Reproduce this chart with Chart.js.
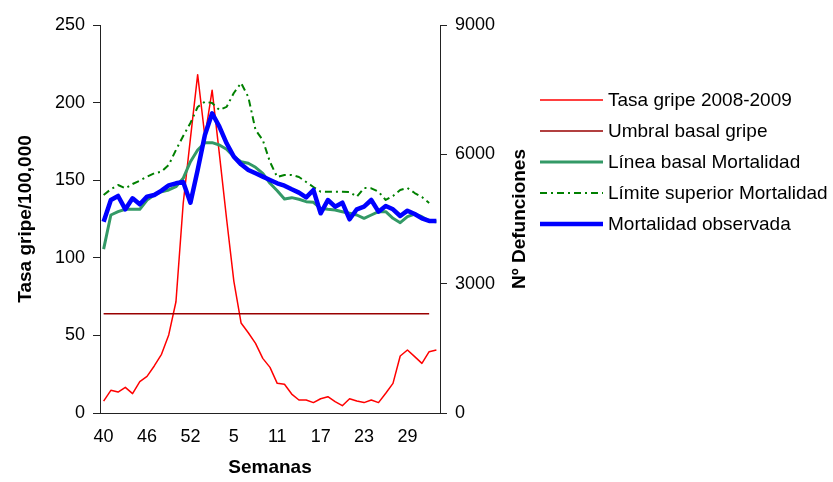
<!DOCTYPE html>
<html>
<head>
<meta charset="utf-8">
<script src="https://cdn.jsdelivr.net/npm/chart.js@4.4.1/dist/chart.umd.min.js"></script>
<style>
html,body{margin:0;padding:0;background:#fff;}
#wrap{width:833px;height:482px;position:relative;}
</style>
</head>
<body>
<div id="wrap"><canvas id="c" width="833" height="482"></canvas></div>
<script>
const weeks = [40,41,42,43,44,45,46,47,48,49,50,51,52,53,1,2,3,4,5,6,7,8,9,10,11,12,13,14,15,16,17,18,19,20,21,22,23,24,25,26,27,28,29,30,31,32,33];
const tickWeeks = [40,46,52,5,11,17,23,29];

const tasaGripe = [7.7,14.6,13.5,16.5,12.5,20.2,23.6,30.3,37.8,50.3,71.7,135,177,218,178,208,167,125,85,58,51.7,44.9,35.2,29.4,19.1,18.5,12.2,8.4,8.4,6.7,9.2,10.5,7.3,4.7,9.2,7.7,6.7,8.4,6.7,12.7,19.1,36.7,40.6,36.3,32,39.5,40.6];
const umbralGripe = [64,64,64,64,64,64,64,64,64,64,64,64,64,64,64,64,64,64,64,64,64,64,64,64,64,64,64,64,64,64,64,64,64,64,64,64,64,64,64,64,64,64,64,64,64,64,null];
const basalMortalidad = [3800,4593,4670,4725,4725,4725,4941,5057,5134,5173,5250,5444,5829,6101,6270,6270,6217,6117,5946,5829,5792,5699,5560,5328,5157,4964,4995,4957,4902,4887,4748,4725,4709,4670,4632,4593,4516,4593,4670,4670,4516,4415,4554,4616,4554,4454,4437];
const limiteMortalidad = [5057,5189,5289,5212,5312,5389,5482,5560,5598,5753,6101,6425,6727,7098,7221,7190,7030,7100,7423,7655,7330,6565,6333,5822,5474,5521,5521,5474,5358,5242,5133,5133,5133,5133,5126,5017,5219,5212,5133,4941,5034,5173,5219,5103,5010,4871,null];
const mortalidadObservada = [4437,4941,5034,4724,4980,4841,5018,5057,5157,5281,5328,5358,4878,5637,6450,6952,6642,6256,5946,5768,5637,5560,5482,5405,5328,5273,5189,5111,5003,5173,4632,4941,4786,4878,4493,4725,4786,4941,4670,4802,4725,4570,4693,4616,4516,4454,4454];

const FONT = "'Liberation Sans', Arial, Helvetica, sans-serif";
const AXIS = '#222';

const legendPlugin = {
  id: 'customLegend',
  afterDraw(chart) {
    const ctx = chart.ctx;
    ctx.save();
    const x0 = 540, x1 = 603, tx = 608;
    const ys = [100, 131, 162, 193, 224];
    chart.data.datasets.forEach((ds, i) => {
      const y = ys[i];
      ctx.beginPath();
      ctx.setLineDash(ds.borderDash || []);
      ctx.lineWidth = ds.borderWidth;
      ctx.strokeStyle = ds.borderColor;
      ctx.lineCap = 'butt';
      ctx.moveTo(x0, y);
      ctx.lineTo(x1, y);
      ctx.stroke();
      ctx.setLineDash([]);
      ctx.fillStyle = '#000';
      ctx.font = '19px ' + FONT;
      ctx.textBaseline = 'middle';
      ctx.textAlign = 'left';
      ctx.fillText(ds.label, tx, y + 1);
    });
    // right axis title (reads bottom to top)
    const ca = chart.chartArea;
    ctx.translate(520, (ca.top + ca.bottom) / 2);
    ctx.rotate(-Math.PI / 2);
    ctx.font = 'bold 19px ' + FONT;
    ctx.textAlign = 'center';
    ctx.textBaseline = 'middle';
    ctx.fillStyle = '#000';
    ctx.fillText('Nº Defunciones', 0, 0);
    ctx.restore();
  }
};

new Chart(document.getElementById('c'), {
  type: 'line',
  data: {
    labels: weeks.map(String),
    datasets: [
      { label: 'Tasa gripe 2008-2009', data: tasaGripe, yAxisID: 'yL', borderColor: '#FF0000', borderWidth: 1.5, order: 5 },
      { label: 'Umbral basal gripe', data: umbralGripe, yAxisID: 'yL', borderColor: '#990000', borderWidth: 1.5, order: 4 },
      { label: 'Línea basal Mortalidad', data: basalMortalidad, yAxisID: 'yR', borderColor: '#339966', borderWidth: 3, order: 3 },
      { label: 'Límite superior Mortalidad', data: limiteMortalidad, yAxisID: 'yR', borderColor: '#008000', borderWidth: 2, borderDash: [7, 4, 2, 4], order: 2 },
      { label: 'Mortalidad observada', data: mortalidadObservada, yAxisID: 'yR', borderColor: '#0000FF', borderWidth: 4.5, order: 1 }
    ]
  },
  options: {
    responsive: false,
    animation: false,
    layout: { padding: { left: 0, right: 293, top: 25, bottom: 0 } },
    elements: { point: { radius: 0, hoverRadius: 0 }, line: { tension: 0, fill: false, borderJoinStyle: 'round' } },
    plugins: { legend: { display: false }, tooltip: { enabled: false } },
    scales: {
      x: {
        type: 'category',
        offset: true,
        grid: { display: false, drawTicks: false },
        border: { display: true, color: AXIS, width: 1 },
        ticks: {
          autoSkip: false, maxRotation: 0, minRotation: 0, padding: 13,
          color: '#000', font: { family: FONT, size: 18 },
          callback: function(v, i) { return i % 6 === 0 ? this.getLabelForValue(v) : ''; }
        },
        title: { display: true, text: 'Semanas', color: '#000', font: { family: FONT, size: 19, weight: 'bold' }, padding: { top: 0, bottom: 3 } },
        afterFit: (s) => { s.height = 69; }
      },
      yL: {
        position: 'left',
        min: 0, max: 250,
        grid: { drawOnChartArea: false, drawTicks: true, tickLength: 7, color: AXIS },
        border: { display: true, color: AXIS, width: 1 },
        ticks: { stepSize: 50, padding: 8, color: '#000', font: { family: FONT, size: 18 }, callback: (v) => String(v) },
        title: { display: true, text: 'Tasa gripe/100,000', color: '#000', font: { family: FONT, size: 19, weight: 'bold' }, padding: { top: 14, bottom: 0 } },
        afterFit: (s) => { s.width = 100; }
      },
      yR: {
        position: 'right',
        min: 0, max: 9000,
        grid: { drawOnChartArea: false, drawTicks: true, tickLength: 7, color: AXIS },
        border: { display: true, color: AXIS, width: 1 },
        ticks: { stepSize: 3000, padding: 8, color: '#000', font: { family: FONT, size: 18 }, callback: (v) => String(v) },
        afterFit: (s) => { s.width = 100; }
      }
    }
  },
  plugins: [legendPlugin]
});
</script>
</body>
</html>
